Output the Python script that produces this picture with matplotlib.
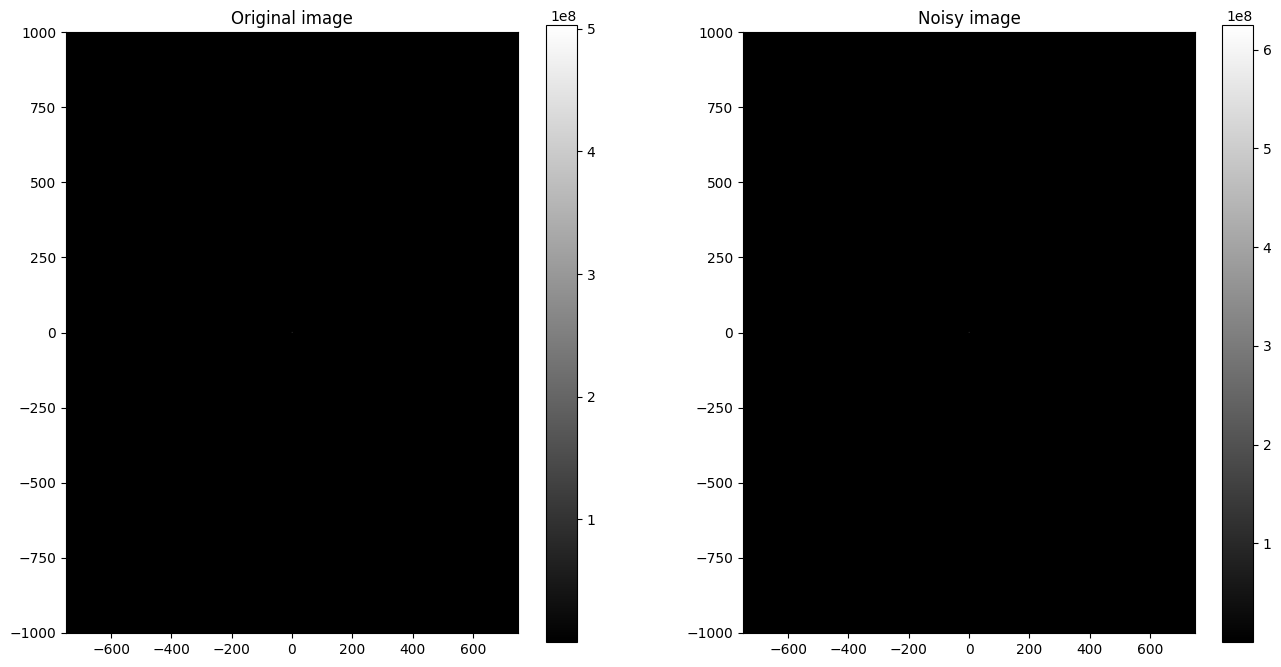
import numpy as np
import matplotlib
matplotlib.use("Agg")
import matplotlib.pyplot as plt

# spectrum size (rows, cols) and centred extent
n_rows, n_cols = 2000, 1500
extent = [-750, 750, -1000, 1000]

# magnitude values
titles = ["Original image", "Noisy image"]
background = [40.0, 55.0]          # tiny floor, keeps 0 off the colorbar
center_patch_orig = [[4.0e7, 9.0e7, 4.0e7],
                     [9.0e7, 5.03e8, 9.0e7],
                     [4.0e7, 9.0e7, 4.0e7]]
center_patch_noisy = [[4.5e7, 1.0e8, 4.5e7],
                      [1.0e8, 6.25e8, 1.0e8],
                      [4.5e7, 1.0e8, 4.5e7]]


def make_spectrum(bg, patch):
    img = np.full((n_rows, n_cols), bg)
    patch = np.array(patch)
    r0 = n_rows // 2 - 1
    c0 = n_cols // 2 - 1
    img[r0:r0 + 3, c0:c0 + 3] = patch
    return img


spectra = [make_spectrum(background[0], center_patch_orig),
           make_spectrum(background[1], center_patch_noisy)]

W, H = 1281, 667
fig = plt.figure(figsize=(W / 100, H / 100), dpi=100)


def px_axes(x0, x1, y0, y1):
    return fig.add_axes([x0 / W, 1 - y1 / H, (x1 - x0) / W, (y1 - y0) / H])


panel_boxes = [(66, 518, 32, 633), (743, 1195, 32, 633)]
cbar_boxes = [(546, 577, 25, 642), (1222, 1253, 25, 642)]

for i in range(2):
    ax = px_axes(*panel_boxes[i])
    im = ax.imshow(spectra[i], cmap="gray", extent=extent, origin="lower",
                   aspect="auto")
    ax.set_title(titles[i])
    ax.set_xticks([-600, -400, -200, 0, 200, 400, 600])
    ax.set_yticks([-1000, -750, -500, -250, 0, 250, 500, 750, 1000])
    cax = px_axes(*cbar_boxes[i])
    fig.colorbar(im, cax=cax)

fig.savefig("out.png", dpi=100)
